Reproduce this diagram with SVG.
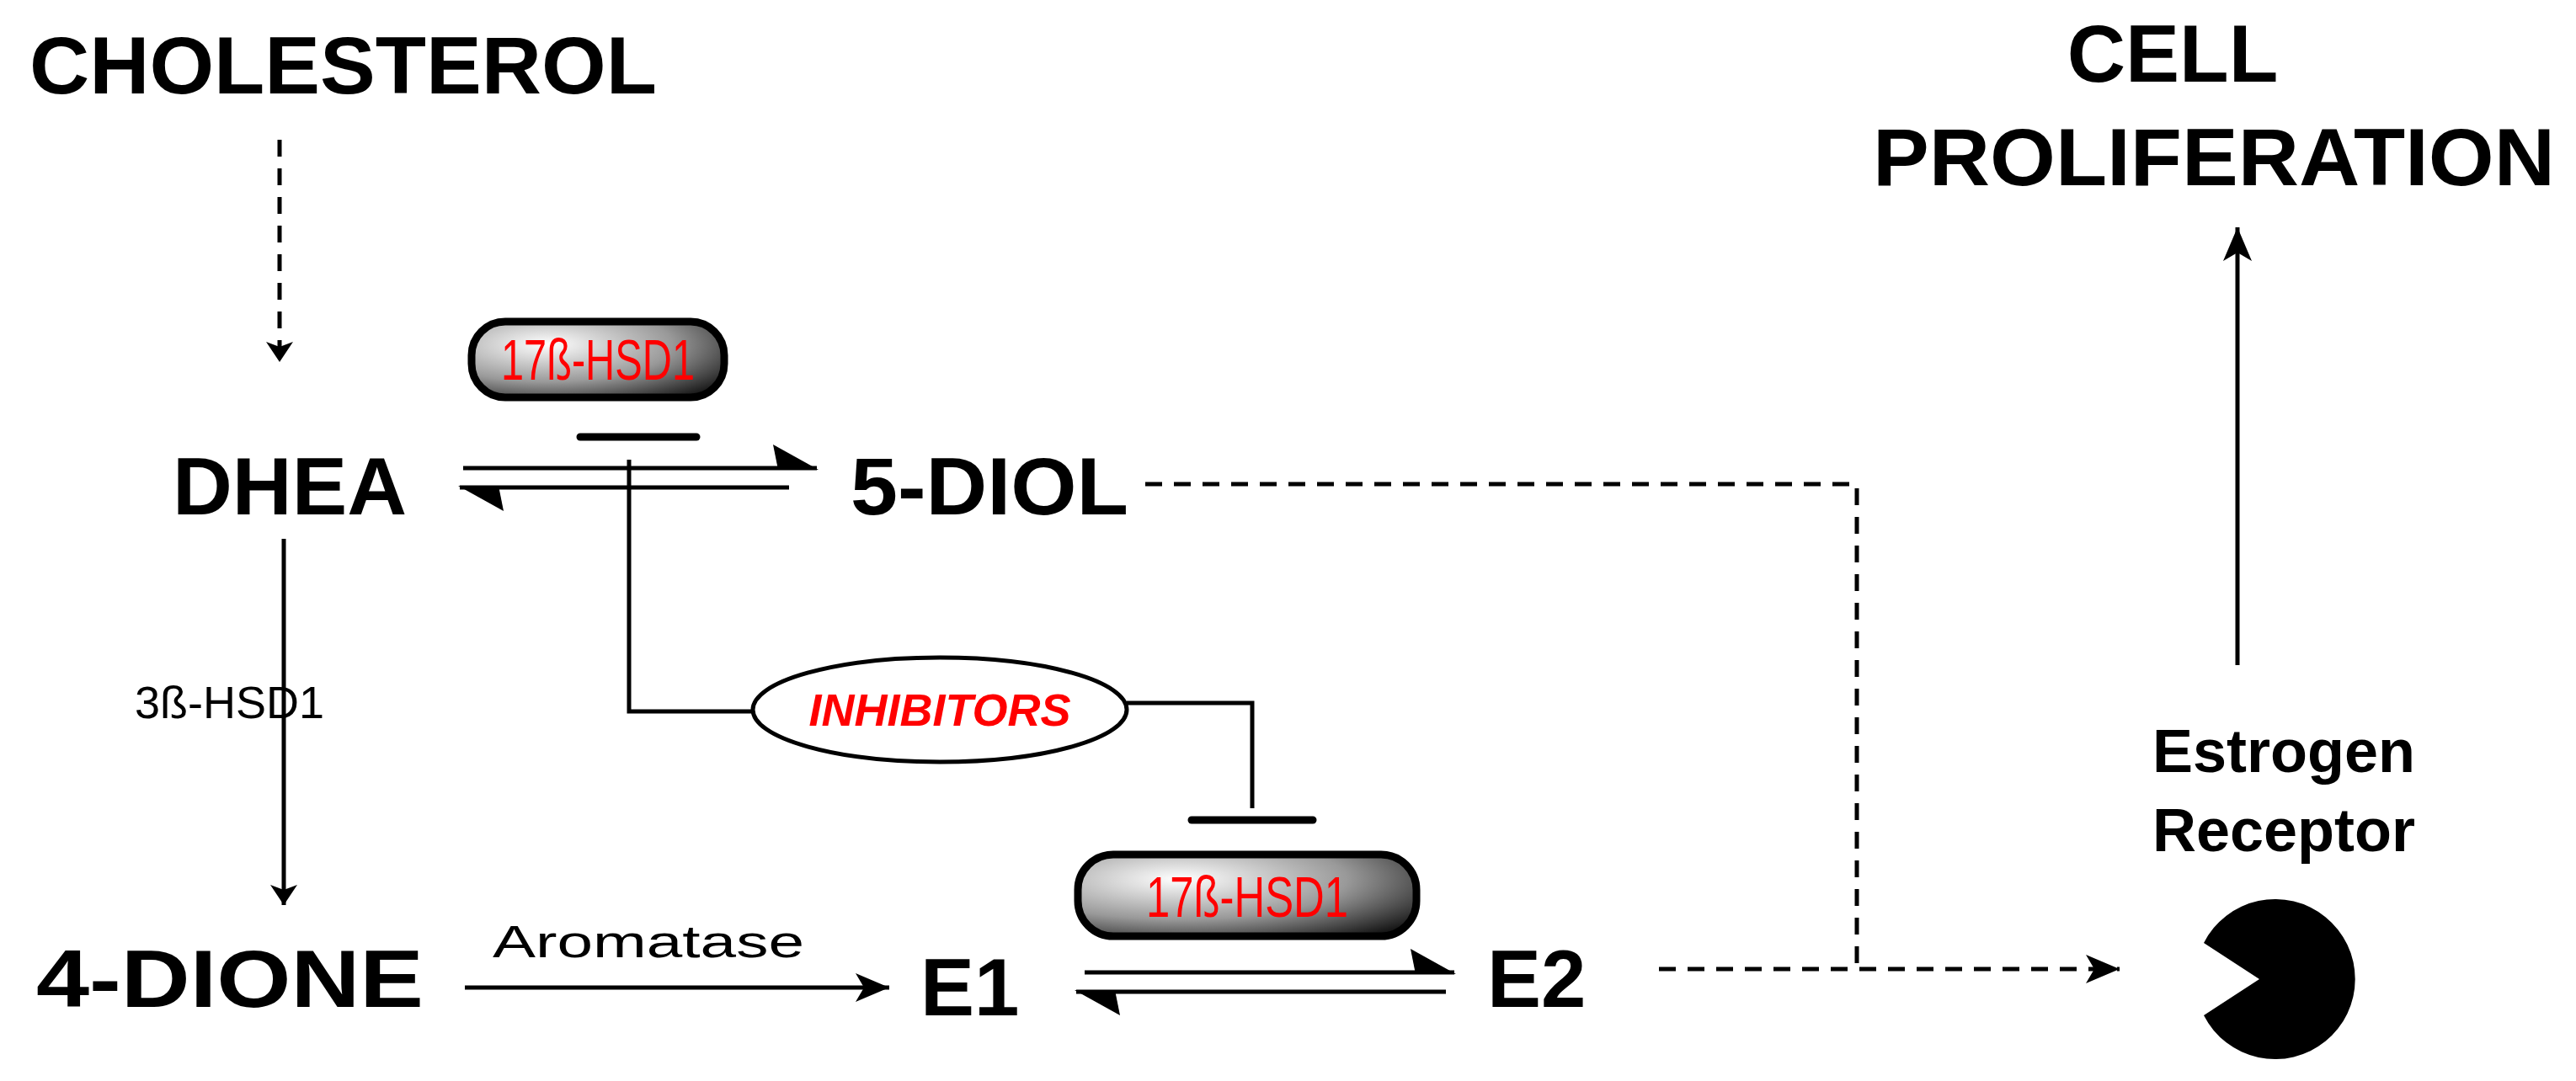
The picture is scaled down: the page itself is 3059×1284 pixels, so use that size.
<svg xmlns="http://www.w3.org/2000/svg" width="3059" height="1284" viewBox="0 0 3059 1284">
<style>
.big{font-family:"Liberation Sans",Arial,sans-serif;font-weight:bold;font-size:96px;fill:#000}
.med{font-family:"Liberation Sans",Arial,sans-serif;font-weight:bold;font-size:72px;fill:#000}
.sm{font-family:"Liberation Sans",Arial,sans-serif;font-size:54px;fill:#000}
.enz{font-family:"Liberation Sans",Arial,sans-serif;font-size:68px;fill:#f00}
.ln{stroke:#000;stroke-width:5;fill:none}
.dash{stroke:#000;stroke-width:5;fill:none;stroke-dasharray:20 14}
.bar{stroke:#000;stroke-width:9;stroke-linecap:round}
.box{fill:url(#g);stroke:#000;stroke-width:9}
</style>
<defs>
<radialGradient id="g" cx="0.3" cy="0.3" r="0.9">
<stop offset="0" stop-color="#fff"/><stop offset="0.55" stop-color="#999"/><stop offset="1" stop-color="#111"/>
</radialGradient>
<marker id="ah" viewBox="0 0 24 40" refX="24" refY="20" markerWidth="24" markerHeight="40" markerUnits="userSpaceOnUse" orient="auto"><path d="M0,4L24,20L0,36L6,20Z" fill="#000"/></marker>
<marker id="ahL" viewBox="0 0 40 34" refX="40" refY="17" markerWidth="40" markerHeight="34" markerUnits="userSpaceOnUse" orient="auto"><path d="M0,0L40,17L0,34L10,17Z" fill="#000"/></marker>
</defs>
<g id="cholesterol"><text class="big" x="35" y="111" textLength="745" lengthAdjust="spacingAndGlyphs">CHOLESTEROL</text></g>
<g id="dhea"><text class="big" x="205" y="611" textLength="278" lengthAdjust="spacingAndGlyphs">DHEA</text></g>
<g id="diol"><text class="big" x="1010" y="611" textLength="330" lengthAdjust="spacingAndGlyphs">5-DIOL</text></g>
<g id="dione"><text class="big" x="43" y="1196" textLength="460" lengthAdjust="spacingAndGlyphs">4-DIONE</text></g>
<g id="e1"><text class="big" x="1093" y="1206">E1</text></g>
<g id="e2"><text class="big" x="1766" y="1196">E2</text></g>
<g id="cell"><text class="big" x="2580" y="97" text-anchor="middle">CELL</text><text class="big" x="2224" y="220" textLength="810" lengthAdjust="spacingAndGlyphs">PROLIFERATION</text></g>
<g id="er"><text class="med" x="2712" y="917" text-anchor="middle">Estrogen</text><text class="med" x="2712" y="1011" text-anchor="middle">Receptor</text>
<path d="M2683,1163 L2617,1120 A95,95 0 1 1 2617,1206 Z" fill="#000"/></g>
<g id="hsd1a"><rect class="box" x="560" y="382" width="300" height="90" rx="40"/><text class="enz" x="710" y="451" text-anchor="middle" textLength="230" lengthAdjust="spacingAndGlyphs">17ß-HSD1</text></g>
<g id="hsd1b"><rect class="box" x="1280" y="1015" width="402" height="97" rx="42"/><text class="enz" x="1481" y="1089" text-anchor="middle" textLength="240" lengthAdjust="spacingAndGlyphs">17ß-HSD1</text></g>
<g id="inhibitors"><ellipse cx="1116" cy="843" rx="222" ry="62" fill="#fff" stroke="#000" stroke-width="5"/><text x="1116" y="862" text-anchor="middle" font-family="Liberation Sans,Arial,sans-serif" font-weight="bold" font-style="italic" font-size="54" fill="#f00">INHIBITORS</text></g>
<g id="connectors">
<line class="dash" x1="332" y1="166" x2="332" y2="430" marker-end="url(#ah)"/>
<line class="ln" x1="550" y1="556" x2="970" y2="556"/><path d="M972,558L918,528L924,558Z" fill="#000"/>
<line class="ln" x1="546" y1="579" x2="937" y2="579"/><path d="M544,577L598,607L592,577Z" fill="#000"/>
<line class="bar" x1="689" y1="519" x2="827" y2="519"/>
<path class="ln" d="M747,546V845H893"/>
<path class="dash" d="M1360,575H2205V1151"/>
<line class="ln" x1="337" y1="640" x2="337" y2="1075" marker-end="url(#ah)"/>
<text class="sm" x="160" y="853">3ß-HSD1</text>
<path class="ln" d="M1338,835H1487V960"/>
<line class="bar" x1="1415" y1="974" x2="1559" y2="974"/>
<text class="sm" x="585" y="1137" textLength="370" lengthAdjust="spacingAndGlyphs">Aromatase</text>
<line class="ln" x1="552" y1="1173" x2="1056" y2="1173" marker-end="url(#ahL)"/>
<line class="ln" x1="1288" y1="1155" x2="1727" y2="1155"/><path d="M1729,1157L1675,1127L1681,1157Z" fill="#000"/>
<line class="ln" x1="1278" y1="1178" x2="1717" y2="1178"/><path d="M1276,1176L1330,1206L1324,1176Z" fill="#000"/>
<line class="dash" x1="1970" y1="1151" x2="2517" y2="1151" marker-end="url(#ahL)"/>
<line class="ln" x1="2657" y1="790" x2="2657" y2="270" marker-end="url(#ahL)"/>
</g>
</svg>
